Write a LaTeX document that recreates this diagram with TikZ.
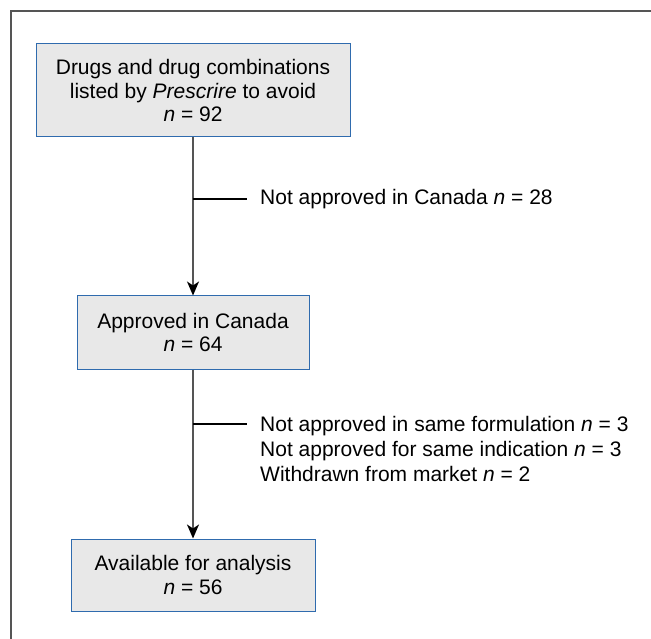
\documentclass[tikz,border=0pt]{standalone}
\usepackage{fontspec}
\setmainfont{Liberation Sans}
\usetikzlibrary{arrows.meta}
\definecolor{boxfill}{HTML}{E8E8E8}
\definecolor{boxedge}{HTML}{2F6BAE}
\definecolor{linegray}{HTML}{555555}
\begin{document}
\begin{tikzpicture}[x=1pt,y=-1pt,
  stagebox/.style={draw=boxedge, line width=1pt, fill=boxfill, align=center,
    font=\fontsize{21}{23.8}\selectfont, inner sep=0pt},
  flowarrow/.style={draw=linegray, line width=1.5pt,
    -{Stealth[length=14pt,width=12pt,inset=4pt,color=black]}},
  branchline/.style={draw=black, line width=1.3pt},
  notetext/.style={font=\fontsize{21}{24.8}\selectfont, align=left, inner sep=0pt},
  framestyle/.style={draw=linegray, line width=1.6pt}]
\useasboundingbox (0,0) rectangle (651,639);
\draw[framestyle] (651,11) -- (11,11) -- (11,639);

\node[stagebox, minimum width=314pt, minimum height=93pt] (b1) at (193,90.5)
  {Drugs and drug combinations\\listed by \textit{Prescrire} to avoid\\\textit{n} = 92};
\node[stagebox, minimum width=232pt, minimum height=73pt] (b2) at (193,332.5)
  {Approved in Canada\\\textit{n} = 64};
\node[stagebox, minimum width=244pt, minimum height=72pt] (b3) at (193,575)
  {Available for analysis\\\textit{n} = 56};

\draw[flowarrow] (b1) -- (b2);
\draw[flowarrow] (b2) -- (b3);

\coordinate (s1) at (193,199);
\coordinate (e1) at (247,199);
\draw[branchline] (s1) -- (e1);
\node[notetext, anchor=west] (t1) at (260,199) {Not approved in Canada \textit{n} = 28};

\coordinate (s2) at (193,424);
\coordinate (e2) at (247,424);
\draw[branchline] (s2) -- (e2);
\node[notetext, anchor=north west] (t2) at (260,416)
  {Not approved in same formulation \textit{n} = 3\\
   Not approved for same indication \textit{n} = 3\\
   Withdrawn from market \textit{n} = 2};
\end{tikzpicture}
\end{document}
